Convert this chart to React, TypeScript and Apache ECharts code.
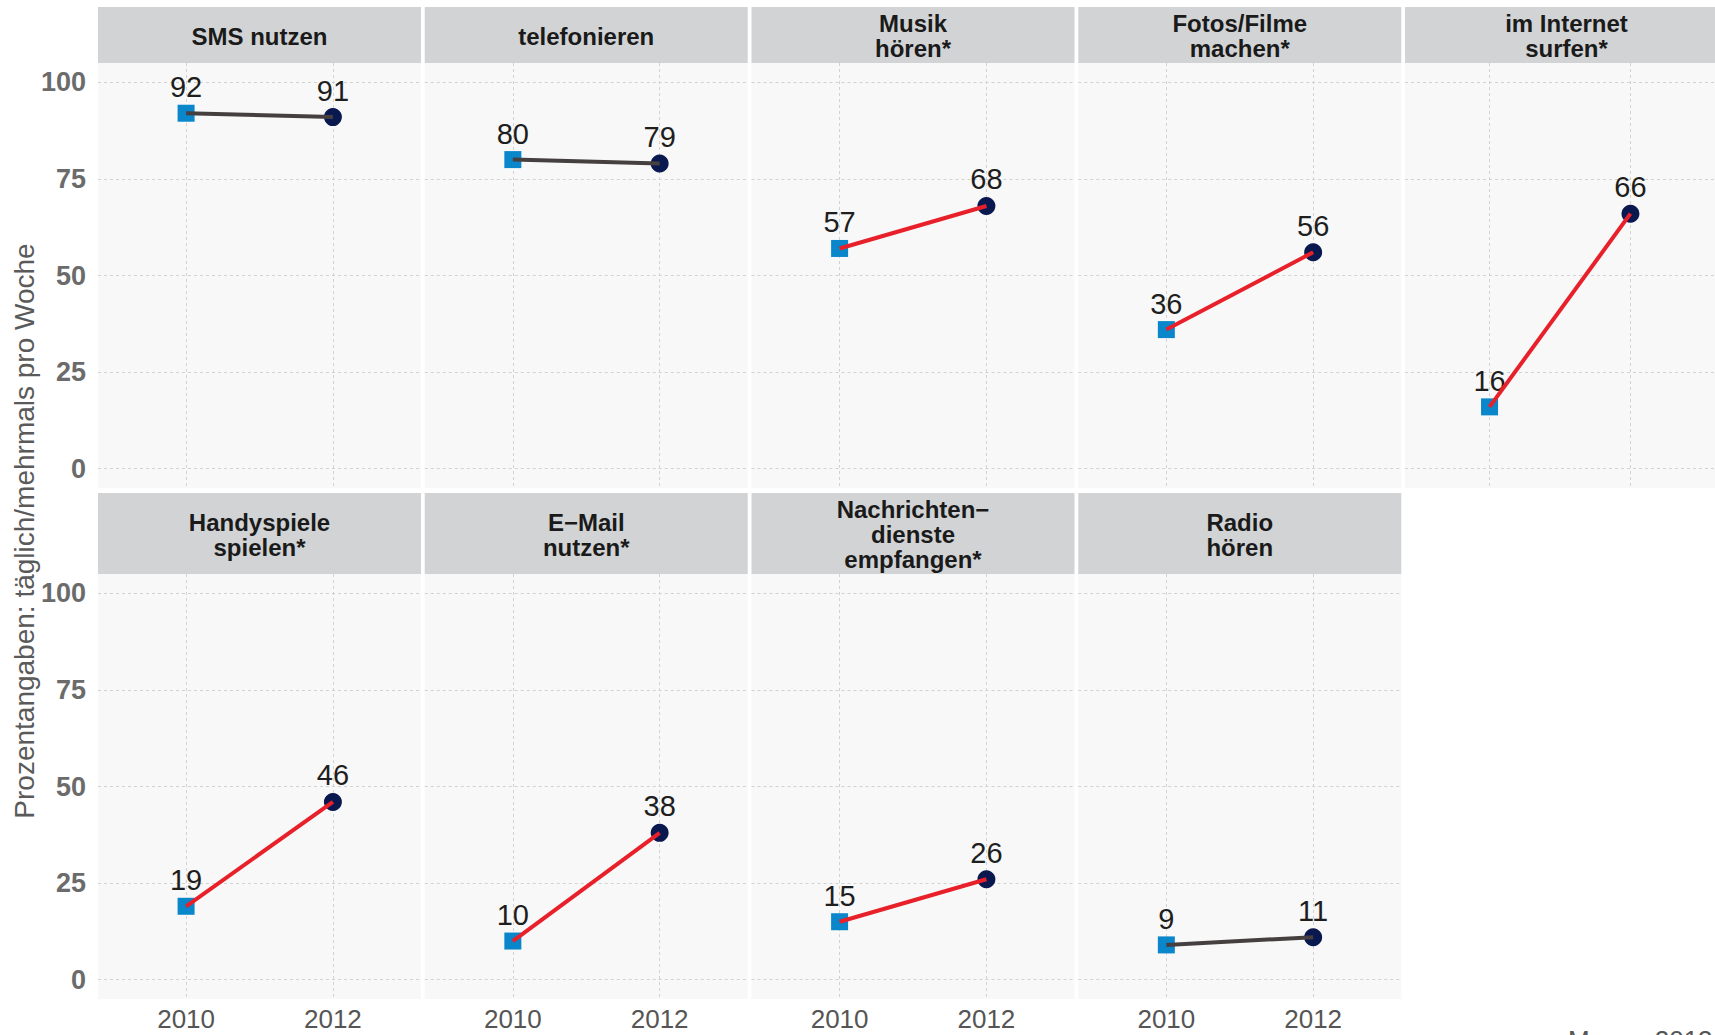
import React, { useEffect, useRef } from "react";
import * as echarts from "echarts";

const categories = [
  "SMS nutzen",
  "telefonieren",
  "Musik\nhören*",
  "Fotos/Filme\nmachen*",
  "im Internet\nsurfen*",
  "Handyspiele\nspielen*",
  "E−Mail\nnutzen*",
  "Nachrichten−\ndienste\nempfangen*",
  "Radio\nhören",
];
const years = [2010, 2012];
const values2010 = [92, 80, 57, 36, 16, 19, 10, 15, 9];
const values2012 = [91, 79, 68, 56, 66, 46, 38, 26, 11];
const significant = [false, false, true, true, true, true, true, true, false];
const yTicks = [0, 25, 50, 75, 100];
const yAxisTitle = "Prozentangaben: täglich/mehrmals pro Woche";
const footNote = "Menge 2013";

const FONT = "'Liberation Sans', Arial, Helvetica, sans-serif";

export default function App() {
  const ref = useRef<HTMLDivElement>(null);

  useEffect(() => {
    if (!ref.current) return;
    const chart = echarts.init(ref.current, undefined, { renderer: "svg" });

    const left0 = 98;
    const step = 326.75;
    const panelW = 323;
    const stripTop = [7, 493];
    const stripH = [56, 81];
    const plotTop = [63, 574];
    const plotH = 425;

    const grids: any[] = [];
    const xAxes: any[] = [];
    const yAxes: any[] = [];
    const series: any[] = [];
    const graphics: any[] = [];

    categories.forEach((cat, i) => {
      const row = i < 5 ? 0 : 1;
      const col = i < 5 ? i : i - 5;
      const x = left0 + col * step;
      grids.push({
        left: x,
        top: plotTop[row],
        width: panelW,
        height: plotH,
        show: true,
        backgroundColor: "#f8f8f8",
        borderWidth: 0,
        containLabel: false,
      });
      const showX = row === 1;
      xAxes.push({
        type: "value",
        gridIndex: i,
        min: years[0] - 1.2,
        max: years[1] + 1.2,
        axisLine: { show: false },
        axisTick: { show: false, customValues: years },
        axisLabel: {
          show: showX,
          customValues: years,
          formatter: (v: number) => String(v),
          fontSize: 26,
          fontFamily: FONT,
          color: "#555555",
          margin: 7,
        },
        splitLine: {
          show: true,
          lineStyle: { color: "#d2d2d2", type: [3, 3], width: 1 },
        },
      });
      yAxes.push({
        type: "value",
        gridIndex: i,
        min: -5,
        max: 105,
        axisLine: { show: false },
        axisTick: { show: false, customValues: yTicks },
        axisLabel: {
          show: col === 0,
          customValues: yTicks,
          fontSize: 27,
          fontWeight: "bold",
          fontFamily: FONT,
          color: "#6b6b6b",
          margin: 12,
        },
        splitLine: {
          show: true,
          lineStyle: { color: "#d2d2d2", type: [3, 3], width: 1 },
        },
      });

      const labelCfg = {
        show: true,
        position: "top",
        distance: 3,
        fontSize: 29,
        fontFamily: FONT,
        color: "#1e1e1e",
        formatter: (p: any) => String(p.value[1]),
      };

      series.push({
        type: "scatter",
        xAxisIndex: i,
        yAxisIndex: i,
        symbol: "rect",
        symbolSize: 17,
        itemStyle: { color: "#0a86cb", opacity: 1 },
        data: [[years[0], values2010[i]]],
        label: labelCfg,
        z: 2,
        silent: true,
      });
      series.push({
        type: "scatter",
        xAxisIndex: i,
        yAxisIndex: i,
        symbol: "circle",
        symbolSize: 18,
        itemStyle: { color: "#0a1850", opacity: 1 },
        data: [[years[1], values2012[i]]],
        label: labelCfg,
        z: 2,
        silent: true,
      });
      series.push({
        type: "line",
        xAxisIndex: i,
        yAxisIndex: i,
        showSymbol: false,
        symbol: "none",
        lineStyle: { color: significant[i] ? "#e8202a" : "#453f3f", width: 4, opacity: 1 },
        data: [
          [years[0], values2010[i]],
          [years[1], values2012[i]],
        ],
        z: 3,
        silent: true,
      });

      graphics.push({
        type: "rect",
        shape: { x: x, y: stripTop[row], width: panelW, height: stripH[row] },
        style: { fill: "#d2d3d5" },
        silent: true,
      });
      graphics.push({
        type: "text",
        x: x + panelW / 2,
        y: stripTop[row] + stripH[row] / 2 + 1,
        style: {
          text: cat,
          align: "center",
          verticalAlign: "middle",
          fontSize: 24,
          fontWeight: "bold",
          fontFamily: FONT,
          lineHeight: 25,
          fill: "#1a1a1a",
        },
        silent: true,
      });
    });

    graphics.push({
      type: "text",
      x: 24,
      y: 531,
      rotation: Math.PI / 2,
      style: {
        text: yAxisTitle,
        align: "center",
        verticalAlign: "middle",
        fontSize: 28,
        fontFamily: FONT,
        fill: "#5a5a5a",
      },
      silent: true,
    });
    graphics.push({
      type: "text",
      x: 1568,
      y: 1027,
      style: {
        text: footNote,
        align: "left",
        verticalAlign: "top",
        fontSize: 26,
        fontFamily: FONT,
        fill: "#555555",
      },
      silent: true,
    });

    chart.setOption({
      animation: false,
      backgroundColor: "#ffffff",
      grid: grids,
      xAxis: xAxes,
      yAxis: yAxes,
      series,
      graphic: graphics,
    });

    return () => chart.dispose();
  }, []);

  return (
    <div
      ref={ref}
      style={{ position: "absolute", left: 0, top: 0, width: 1715, height: 1035 }}
    />
  );
}
